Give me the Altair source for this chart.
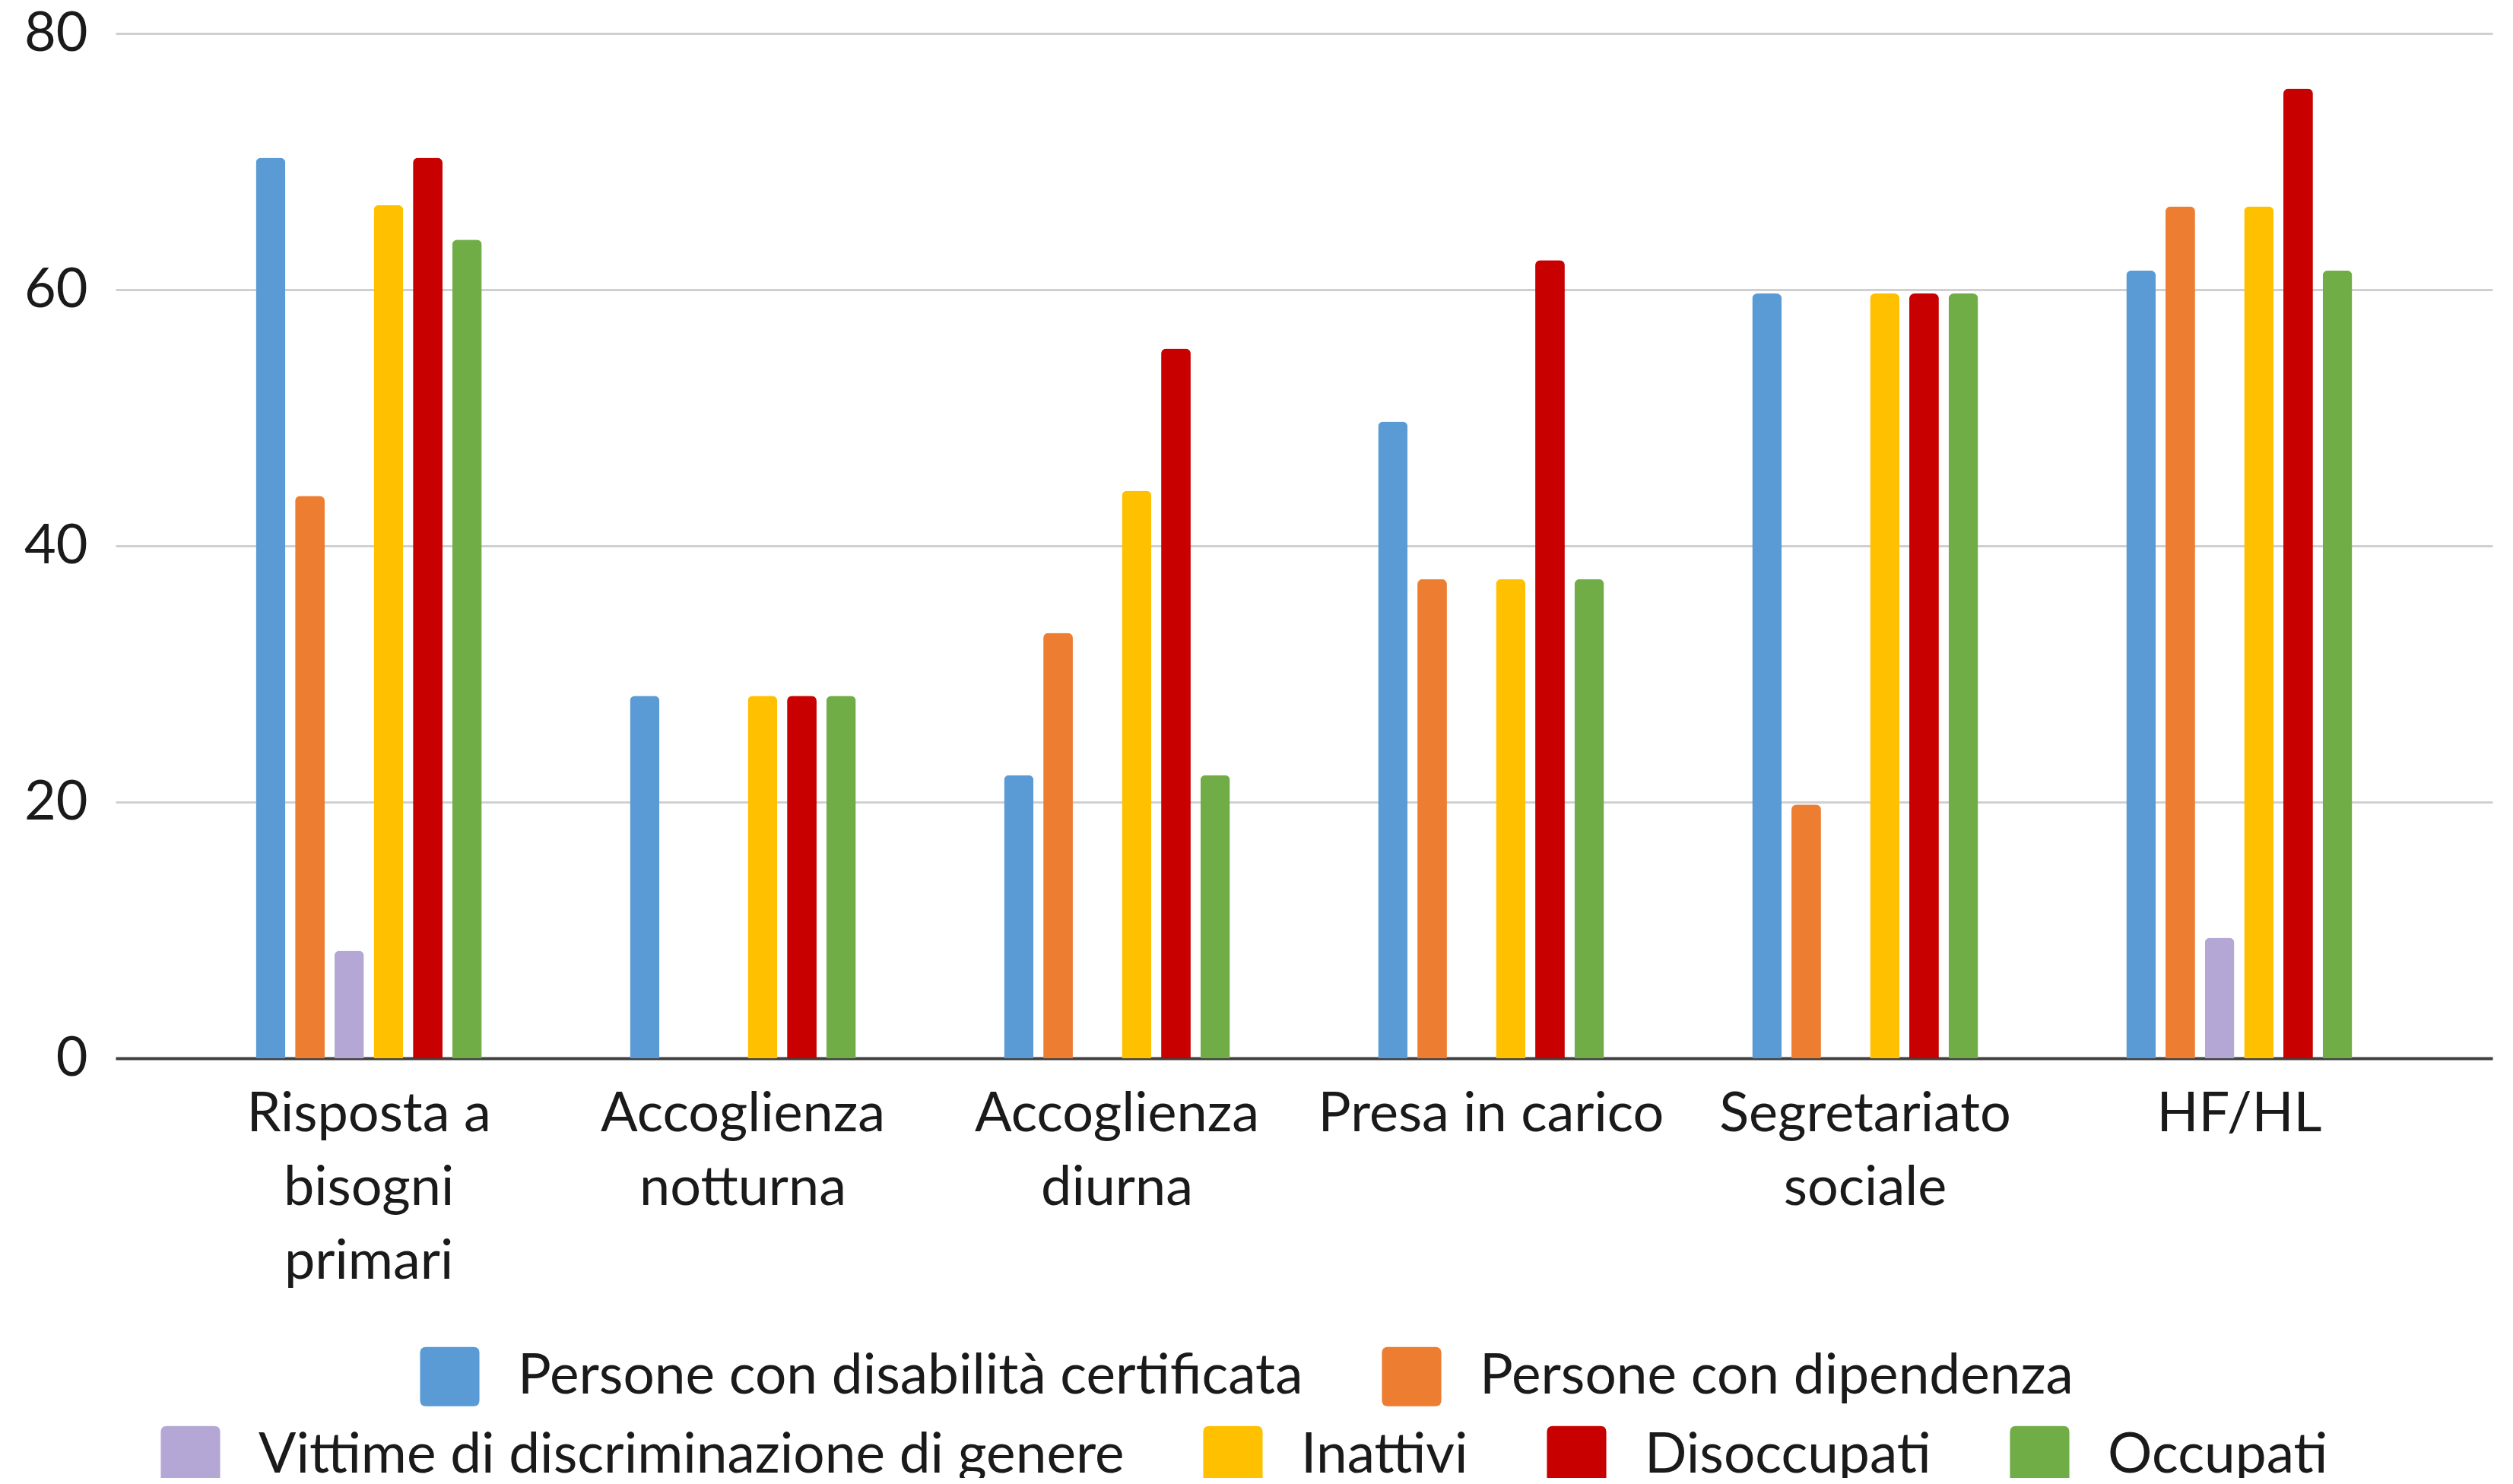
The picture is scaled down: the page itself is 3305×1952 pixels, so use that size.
import altair as alt
import pandas as pd

# ---- data ----
categorie = [
    "Risposta a bisogni primari",
    "Accoglienza notturna",
    "Accoglienza diurna",
    "Presa in carico",
    "Segretariato sociale",
    "HF/HL",
]
righe_etichette = [
    ["Risposta a", "bisogni", "primari"],
    ["Accoglienza", "notturna"],
    ["Accoglienza", "diurna"],
    ["Presa in carico"],
    ["Segretariato", "sociale"],
    ["HF/HL"],
]
serie = [
    "Persone con disabilità certificata",
    "Persone con dipendenza",
    "Vittime di discriminazione di genere",
    "Inattivi",
    "Disoccupati",
    "Occupati",
]
colori = ["#5B9BD5", "#ED7D31", "#B4A7D6", "#FFC000", "#C80000", "#70AD47"]

v_disabilita = [70.3, 28.3, 22.1, 49.7, 59.7, 61.5]
v_dipendenza = [43.9, None, 33.2, 37.4, 19.8, 66.5]
v_vittime = [8.4, None, None, None, None, 9.4]
v_inattivi = [66.6, 28.3, 44.3, 37.4, 59.7, 66.5]
v_disoccupati = [70.3, 28.3, 55.4, 62.3, 59.7, 75.7]
v_occupati = [63.9, 28.3, 22.1, 37.4, 59.7, 61.5]

valori = [v_disabilita, v_dipendenza, v_vittime, v_inattivi, v_disoccupati, v_occupati]

rows = []
for s, vals in zip(serie, valori):
    for c, v in zip(categorie, vals):
        if v is not None:
            rows.append({"Categoria": c, "Serie": s, "Valore": v})
df = pd.DataFrame(rows)

FONT = "Lato"
TXT = "#1a1a1a"

# label expression producing multi-line category labels
expr = "''"
for c, lines in reversed(list(zip(categorie, righe_etichette))):
    expr = f"datum.label == '{c}' ? '{'|'.join(lines)}' : ({expr})"
label_expr = f"split({expr}, '|')"

# rounded square legend symbol (unit coords -1..1)
SIMBOLO = (
    "M-0.8,-1 H0.8 Q1,-1 1,-0.8 V0.8 Q1,1 0.8,1 H-0.8 Q-1,1 -1,0.8 "
    "V-0.8 Q-1,-1 -0.8,-1 Z"
)

x_enc = alt.X(
    "Categoria:N",
    sort=categorie,
    scale=alt.Scale(domain=categorie, paddingInner=0.396, paddingOuter=0.375),
    axis=alt.Axis(
        title=None,
        labelAngle=0,
        labelExpr=label_expr,
        labelFont=FONT,
        labelFontSize=72,
        labelColor=TXT,
        labelPadding=38,
        labelLineHeight=97,
        labelLimit=2000,
        labelOverlap=False,
        ticks=False,
        grid=False,
        domainColor="#404040",
        domainWidth=4,
    ),
)
xo_enc = alt.XOffset(
    "Serie:N", scale=alt.Scale(domain=serie, paddingInner=0.248, paddingOuter=0)
)
y_enc = alt.Y(
    "Valore:Q",
    scale=alt.Scale(domain=[0, 80], nice=False),
    axis=alt.Axis(
        title=None,
        values=[0, 20, 40, 60, 80],
        domain=False,
        ticks=False,
        grid=True,
        gridColor="#d0d0d0",
        gridWidth=3,
        labelFont=FONT,
        labelFontSize=72,
        labelColor=TXT,
        labelPadding=37,
    ),
)


def legenda(lx, ly):
    return alt.Legend(
        title=None,
        orient="none",
        legendX=lx,
        legendY=ly,
        direction="horizontal",
        symbolType=SIMBOLO,
        symbolSize=6100,
        symbolStrokeWidth=0,
        labelFont=FONT,
        labelFontSize=73,
        labelColor=TXT,
        labelLimit=3000,
        labelOffset=50,
        columnPadding=103,
        padding=0,
    )


def strato(sottoinsieme, col, leg):
    return (
        alt.Chart(df)
        .transform_filter(alt.FieldOneOfPredicate(field="Serie", oneOf=sottoinsieme))
        .mark_bar(cornerRadiusTopLeft=7, cornerRadiusTopRight=7)
        .encode(
            x=x_enc,
            xOffset=xo_enc,
            y=y_enc,
            color=alt.Color(
                "Serie:N",
                scale=alt.Scale(domain=sottoinsieme, range=col),
                legend=leg,
            ),
        )
    )


a = strato(serie[:2], colori[:2], legenda(400, 1727))
b = strato(serie[2:], colori[2:], legenda(59, 1831))

chart = (
    alt.layer(a, b)
    .resolve_scale(color="independent")
    .properties(
        width=3126,
        height=1348,
        autosize=alt.AutoSizeParams(type="none"),
        padding={"left": 144, "top": 36, "right": 19, "bottom": 552},
        background="white",
    )
    .configure_view(stroke=None)
)

chart.save("out.html", embed_options={"renderer": "svg", "actions": False})
